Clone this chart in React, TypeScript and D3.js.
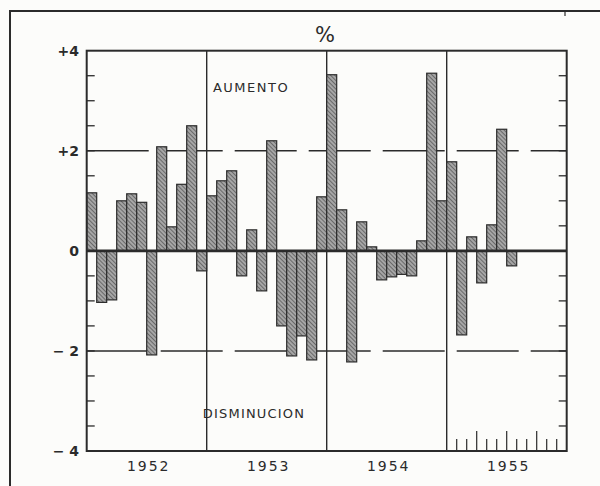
import React from 'react';
import * as d3 from 'd3';

// monthly % change, Jan 1952 .. Jul 1955
const years = ['1952', '1953', '1954', '1955'];
const values1952 = [1.16, -1.03, -0.98, 1.0, 1.14, 0.97, -2.08, 2.08, 0.48, 1.33, 2.5, -0.4];
const values1953 = [1.1, 1.4, 1.6, -0.5, 0.42, -0.8, 2.2, -1.5, -2.1, -1.7, -2.18, 1.08];
const values1954 = [3.52, 0.82, -2.22, 0.58, 0.08, -0.58, -0.52, -0.47, -0.5, 0.2, 3.55, 1.0];
const values1955 = [1.78, -1.68, 0.28, -0.64, 0.52, 2.43, -0.3];
const yTicks = [4, 2, 0, -2, -4];
const yLabels = ['+4', '+2', '0', '\u2212 2', '\u2212 4'];

const values = [...values1952, ...values1953, ...values1954, ...values1955];

const W = 600;
const H = 486;
const left = 86.7;
const right = 566.7;
const top = 50.7;
const bottom = 451;
const ink = '#2b2b2b';
const font = '"DejaVu Sans", "Liberation Sans", sans-serif';

const App: React.FC = () => {
  const months = d3.range(years.length * 12);
  const x = d3.scaleBand<number>().domain(months).range([left, right]).padding(0);
  const y = d3.scaleLinear().domain([-4, 4]).range([bottom, top]);
  const bw = x.bandwidth();

  const halfTicks = d3.range(-3.5, 4, 0.5).filter(v => v !== 0);
  const yearEdges = years.slice(1).map((_, i) => x((i + 1) * 12)!);
  const lastYearStart = x((years.length - 1) * 12)!;

  return (
    <svg width={W} height={H} style={{ position: 'absolute', left: 0, top: 0, background: '#fcfcfa' }}>
      <defs>
        <pattern id="hatch" width="3" height="3" patternUnits="userSpaceOnUse" patternTransform="rotate(-45)">
          <rect width="3" height="3" fill="#a6a6a6" />
          <line x1="0" y1="0" x2="0" y2="3" stroke="#474747" strokeWidth="1.3" />
        </pattern>
      </defs>

      {/* outer frame of the page */}
      <path d={`M10,${H}V11H${W}`} fill="none" stroke={ink} strokeWidth={2} />
      <line x1={565} x2={565} y1={11} y2={16} stroke={ink} strokeWidth={1.2} />

      <text x={325} y={42} textAnchor="middle" fontFamily={font} fontSize={21} fill={ink}>%</text>

      {/* dashed guide lines at +2 / -2 */}
      {[2, -2].map(v => (
        <line key={v} x1={left} x2={right} y1={y(v)} y2={y(v)} stroke={ink} strokeWidth={1.6}
          strokeDasharray="62,12" />
      ))}

      {/* year dividers */}
      {yearEdges.map((ex, i) => (
        <line key={i} x1={ex} x2={ex} y1={top} y2={bottom} stroke={ink} strokeWidth={1.4} />
      ))}

      {/* half-unit ticks on both sides */}
      {halfTicks.map(v => (
        <g key={v}>
          <line x1={left} x2={left + 8} y1={y(v)} y2={y(v)} stroke={ink} strokeWidth={1.3} />
          <line x1={right - 8} x2={right} y1={y(v)} y2={y(v)} stroke={ink} strokeWidth={1.3} />
        </g>
      ))}

      {/* month ticks along the bottom of the last year */}
      {d3.range(1, 12).map(k => (
        <line key={k} x1={lastYearStart + k * bw} x2={lastYearStart + k * bw}
          y1={bottom} y2={bottom - (k % 3 === 0 ? 20 : 12)} stroke={ink} strokeWidth={1.2} />
      ))}

      {/* bars */}
      {values.map((v, i) => (
        <rect key={i} x={x(i)!} width={bw}
          y={Math.min(y(v), y(0))} height={Math.abs(y(v) - y(0))}
          fill="url(#hatch)" stroke={ink} strokeWidth={1.2} />
      ))}

      {/* zero line */}
      <line x1={left} x2={right} y1={y(0)} y2={y(0)} stroke={ink} strokeWidth={2.6} />

      {/* plot frame */}
      <rect x={left} y={top} width={right - left} height={bottom - top} fill="none" stroke={ink} strokeWidth={2} />

      {/* y labels */}
      {yTicks.map((v, i) => (
        <text key={v} x={79} y={y(v) + 5} textAnchor="end" fontFamily={font} fontSize={14}
          fontWeight="bold" fill={ink}>{yLabels[i]}</text>
      ))}

      {/* year labels */}
      {years.map((yr, i) => (
        <text key={yr} x={x(i * 12 + 6)! + 2} y={471} textAnchor="middle" fontFamily={font}
          fontSize={14} letterSpacing={2} fill={ink}>{yr}</text>
      ))}

      <text x={251} y={92} textAnchor="middle" fontFamily={font} fontSize={13} letterSpacing={1.5} fill={ink}>AUMENTO</text>
      <text x={254} y={418} textAnchor="middle" fontFamily={font} fontSize={13} letterSpacing={1.2} fill={ink}>DISMINUCION</text>
    </svg>
  );
};

export default App;
